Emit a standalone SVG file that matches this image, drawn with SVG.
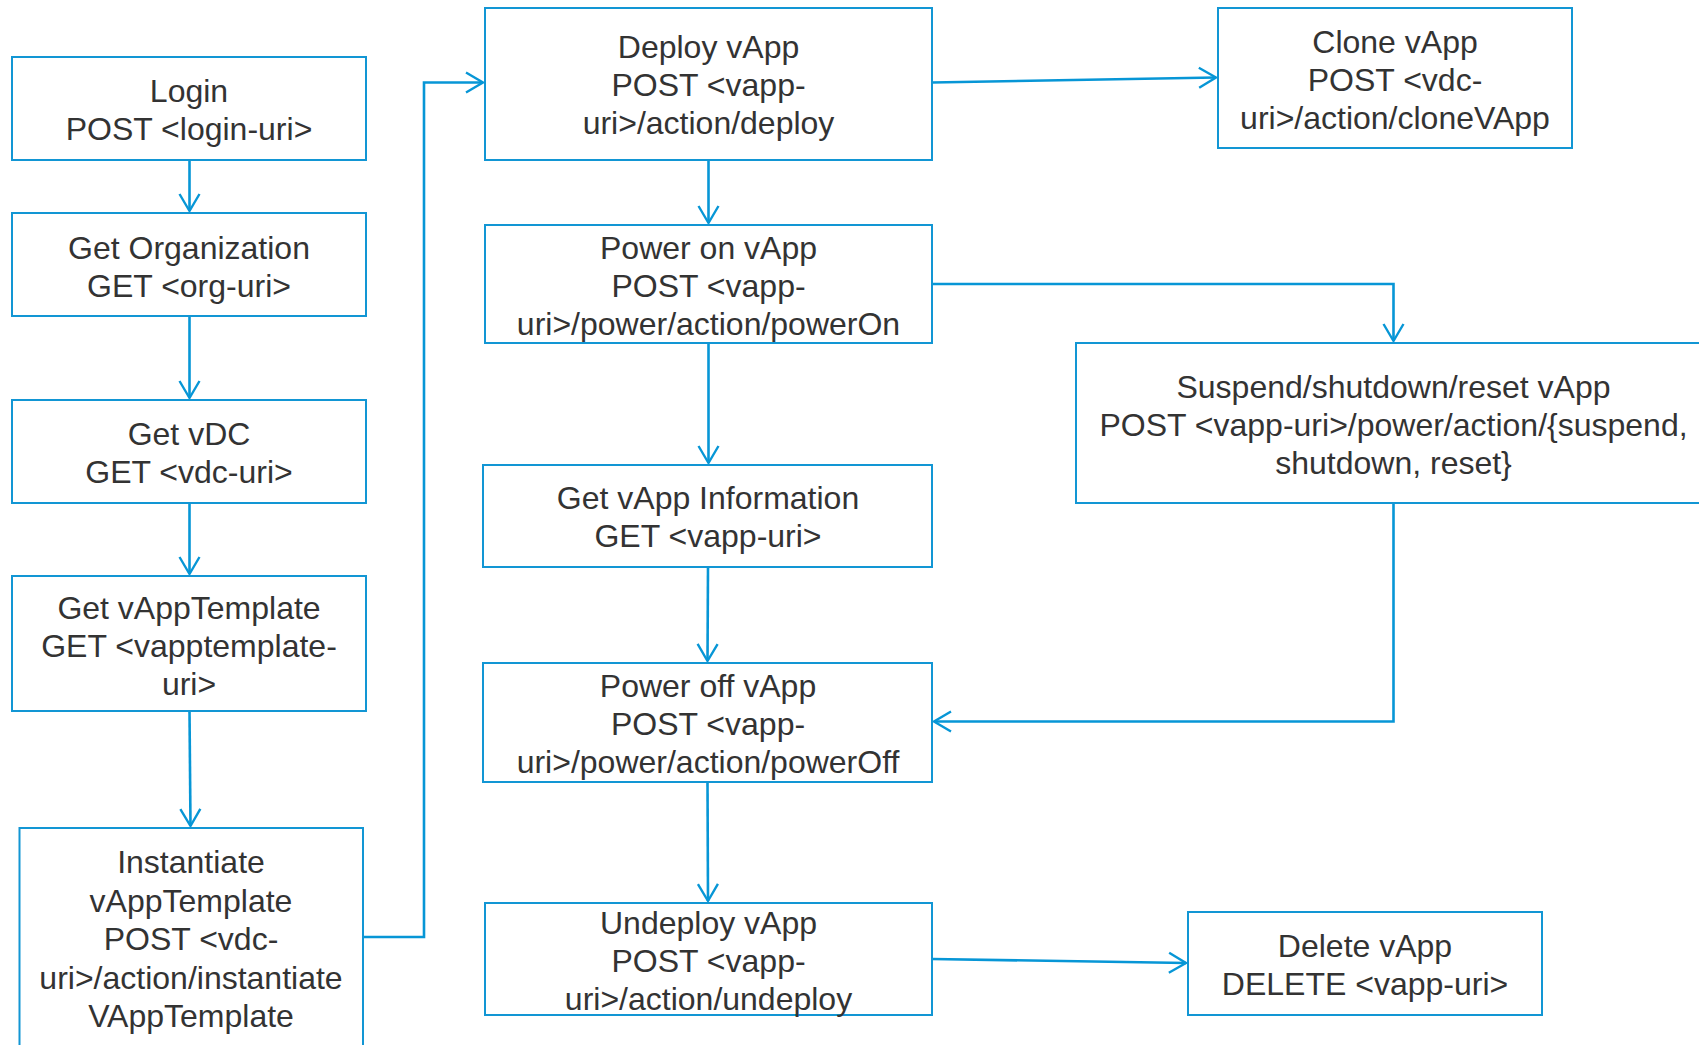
<svg xmlns="http://www.w3.org/2000/svg" width="1699" height="1045" viewBox="0 0 1699 1045">
<defs>
<style>
.box{fill:#fff;stroke:#1296d4;stroke-width:2}
.t{font-family:"Liberation Sans",Arial,sans-serif;font-size:32px;fill:#333;text-anchor:middle}
.c{fill:none;stroke:#0796d6;stroke-width:2.6;marker-end:url(#arr)}
</style>
<marker id="arr" markerWidth="22" markerHeight="24" refX="19" refY="12" orient="auto" markerUnits="userSpaceOnUse" viewBox="0 0 22 24">
<path d="M2 2 L19 12 L2 22" fill="none" stroke="#0796d6" stroke-width="2.4"/>
</marker>
</defs>
<rect width="1699" height="1045" fill="#fff"/>

<g id="connectors">
<path class="c" d="M189.5 160 L189.5 211"/>
<path class="c" d="M189.5 316 L189.5 398"/>
<path class="c" d="M189.5 503 L189.5 574"/>
<path class="c" d="M189.5 711 L190.5 826"/>
<path class="c" d="M363 937 L424 937 L424 82.5 L483 82.5"/>
<path class="c" d="M708.5 160 L708.5 223"/>
<path class="c" d="M932 82.5 L1216 77.5"/>
<path class="c" d="M932 284 L1393.5 284 L1393.5 341"/>
<path class="c" d="M708.5 343 L708.5 463"/>
<path class="c" d="M1393.5 503 L1393.5 721.5 L934 721.5"/>
<path class="c" d="M708 567 L707.5 661"/>
<path class="c" d="M707.5 782 L708 901"/>
<path class="c" d="M932 959 L1186 963"/>
</g>

<g id="login">
<rect class="box" x="12" y="57" width="354" height="103"/>
<text class="t" x="189" y="102">Login</text>
<text class="t" x="189" y="140">POST &lt;login-uri&gt;</text>
</g>
<g id="get-org">
<rect class="box" x="12" y="213" width="354" height="103"/>
<text class="t" x="189" y="259">Get Organization</text>
<text class="t" x="189" y="297">GET &lt;org-uri&gt;</text>
</g>
<g id="get-vdc">
<rect class="box" x="12" y="400" width="354" height="103"/>
<text class="t" x="189" y="445">Get vDC</text>
<text class="t" x="189" y="483">GET &lt;vdc-uri&gt;</text>
</g>
<g id="get-vapptemplate">
<rect class="box" x="12" y="576" width="354" height="135"/>
<text class="t" x="189" y="619">Get vAppTemplate</text>
<text class="t" x="189" y="657">GET &lt;vapptemplate-</text>
<text class="t" x="189" y="695">uri&gt;</text>
</g>
<g id="instantiate">
<rect class="box" x="19.5" y="828" width="343.5" height="240"/>
<text class="t" x="191" y="873">Instantiate</text>
<text class="t" x="191" y="911.5">vAppTemplate</text>
<text class="t" x="191" y="950">POST &lt;vdc-</text>
<text class="t" x="191" y="988.5">uri&gt;/action/instantiate</text>
<text class="t" x="191" y="1027">VAppTemplate</text>
</g>
<g id="deploy">
<rect class="box" x="485" y="8" width="447" height="152"/>
<text class="t" x="708.5" y="58">Deploy vApp</text>
<text class="t" x="708.5" y="96">POST &lt;vapp-</text>
<text class="t" x="708.5" y="134">uri&gt;/action/deploy</text>
</g>
<g id="clone">
<rect class="box" x="1218" y="8" width="354" height="140"/>
<text class="t" x="1395" y="53">Clone vApp</text>
<text class="t" x="1395" y="91">POST &lt;vdc-</text>
<text class="t" x="1395" y="129">uri&gt;/action/cloneVApp</text>
</g>
<g id="power-on">
<rect class="box" x="485" y="225" width="447" height="118"/>
<text class="t" x="708.5" y="259">Power on vApp</text>
<text class="t" x="708.5" y="297">POST &lt;vapp-</text>
<text class="t" x="708.5" y="335">uri&gt;/power/action/powerOn</text>
</g>
<g id="suspend">
<rect class="box" x="1076" y="343" width="640" height="160"/>
<text class="t" x="1393.5" y="398">Suspend/shutdown/reset vApp</text>
<text class="t" x="1393.5" y="436">POST &lt;vapp-uri&gt;/power/action/{suspend,</text>
<text class="t" x="1393.5" y="474">shutdown, reset}</text>
</g>
<g id="get-vapp-info">
<rect class="box" x="483" y="465" width="449" height="102"/>
<text class="t" x="708" y="509">Get vApp Information</text>
<text class="t" x="708" y="547">GET &lt;vapp-uri&gt;</text>
</g>
<g id="power-off">
<rect class="box" x="483" y="663" width="449" height="119"/>
<text class="t" x="708" y="697">Power off vApp</text>
<text class="t" x="708" y="735">POST &lt;vapp-</text>
<text class="t" x="708" y="773">uri&gt;/power/action/powerOff</text>
</g>
<g id="undeploy">
<rect class="box" x="485" y="903" width="447" height="112"/>
<text class="t" x="708.5" y="934">Undeploy vApp</text>
<text class="t" x="708.5" y="972">POST &lt;vapp-</text>
<text class="t" x="708.5" y="1010">uri&gt;/action/undeploy</text>
</g>
<g id="delete">
<rect class="box" x="1188" y="912" width="354" height="103"/>
<text class="t" x="1365" y="957">Delete vApp</text>
<text class="t" x="1365" y="995">DELETE &lt;vapp-uri&gt;</text>
</g>
</svg>
